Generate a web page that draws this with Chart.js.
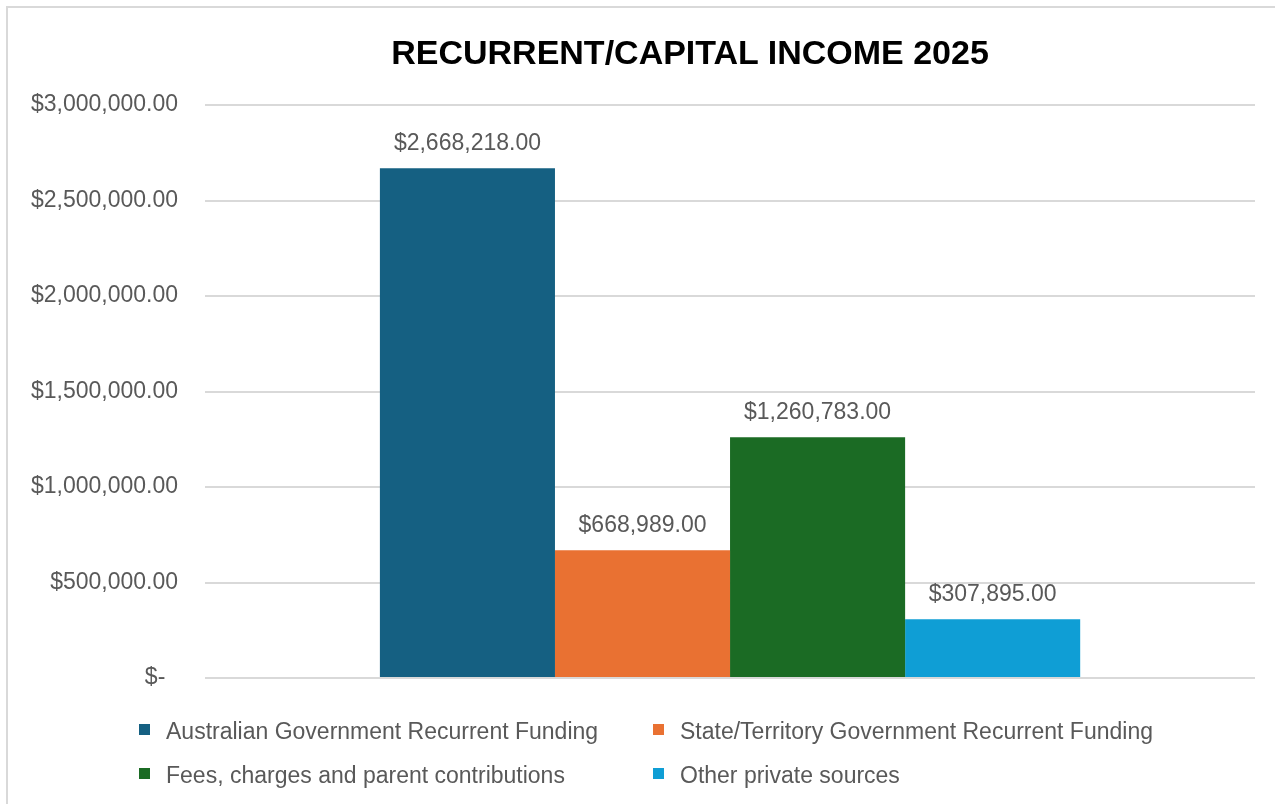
<!DOCTYPE html>
<html>
<head>
<meta charset="utf-8">
<script src="https://cdn.jsdelivr.net/npm/chart.js@4.4.1/dist/chart.umd.min.js"></script>
<style>
  body { margin: 0; background: #fff; overflow: hidden; }
  #frame { position: absolute; left: 6px; top: 6px; width: 1400px; height: 900px;
           border-left: 2px solid #d9d9d9; border-top: 2px solid #d9d9d9; }
  #chart { position: absolute; left: 0; top: 0; }
  #title { position: absolute; left: 0; top: 35px; width: 1380px; text-align: center;
           font-family: "Liberation Sans", Arial, sans-serif; font-weight: bold;
           font-size: 34px; line-height: 34px; color: #000; }
  .leg { position: absolute; font-family: "Liberation Sans", Arial, sans-serif;
         font-size: 23px; color: #595959; white-space: nowrap; line-height: 26px; }
  .leg span.box { position: absolute; width: 11px; height: 11px; left: -27px; top: 6px; }
</style>
</head>
<body>
<div id="frame"></div>
<canvas id="chart" width="1380" height="804"></canvas>
<div id="title">RECURRENT/CAPITAL INCOME 2025</div>
<div id="legend"></div>
<script>
const categories = ['2025'];
const seriesNames = [
  'Australian Government Recurrent Funding',
  'State/Territory Government Recurrent Funding',
  'Fees, charges and parent contributions',
  'Other private sources'
];
const seriesValues = [2668218, 668989, 1260783, 307895];
const seriesColors = ['#156082', '#e97132', '#1b6b24', '#0f9ed5'];
const yTicks = [0, 500000, 1000000, 1500000, 2000000, 2500000, 3000000];

function money(v) {
  if (v == 0) return '$-  ';
  return '$' + v.toLocaleString('en-US', { minimumFractionDigits: 2, maximumFractionDigits: 2 });
}

// value labels above each bar
const barLabels = {
  id: 'barLabels',
  afterDatasetsDraw(chart) {
    const ctx = chart.ctx;
    ctx.save();
    ctx.font = '23px "Liberation Sans", Arial, sans-serif';
    ctx.fillStyle = '#595959';
    ctx.textAlign = 'center';
    ctx.textBaseline = 'alphabetic';
    chart.data.datasets.forEach((ds, i) => {
      const meta = chart.getDatasetMeta(i);
      meta.data.forEach((bar, j) => {
        ctx.fillText(money(ds.data[j]), bar.x, bar.y - 18);
      });
    });
    ctx.restore();
  }
};

const datasets = seriesNames.map((name, i) => ({
  label: name,
  data: [seriesValues[i]],
  backgroundColor: seriesColors[i],
  borderWidth: 0
}));

const chart = new Chart(document.getElementById('chart'), {
  type: 'bar',
  data: { labels: categories, datasets: datasets },
  options: {
    responsive: false,
    animation: false,
    devicePixelRatio: 1,
    categoryPercentage: 0.667,
    barPercentage: 1,
    layout: { padding: { left: 4, right: 125, top: 105, bottom: 126 } },
    plugins: {
      legend: { display: false },
      tooltip: { enabled: false },
      title: { display: false }
    },
    scales: {
      x: { display: false },
      y: {
        min: 0,
        max: 3000000,
        afterBuildTicks: (axis) => { axis.ticks = yTicks.map(v => ({ value: v })); },
        border: { display: false },
        grid: { color: '#d9d9d9', lineWidth: 2, drawTicks: false },
        ticks: {
          padding: 27,
          color: '#595959',
          font: { family: '"Liberation Sans", Arial, sans-serif', size: 23 },
          callback: (v) => money(v)
        }
      }
    }
  },
  plugins: [barLabels]
});

// legend in two columns, like the original
const legendCols = [166, 680];
const legendRows = [718, 762];
const legendBox = document.getElementById('legend');
chart.data.datasets.forEach((ds, i) => {
  const item = document.createElement('div');
  item.className = 'leg';
  item.style.left = legendCols[i % 2] + 'px';
  item.style.top = legendRows[Math.floor(i / 2)] + 'px';
  const box = document.createElement('span');
  box.className = 'box';
  box.style.background = ds.backgroundColor;
  item.appendChild(box);
  item.appendChild(document.createTextNode(ds.label));
  legendBox.appendChild(item);
});
</script>
</body>
</html>
